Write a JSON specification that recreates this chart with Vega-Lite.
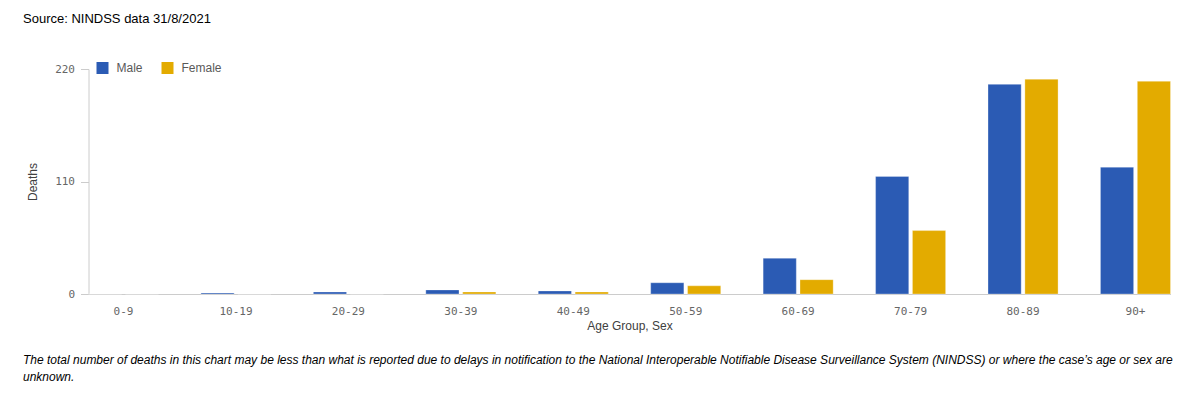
{
  "$schema": "https://vega.github.io/schema/vega-lite/v6.json",
  "autosize": {"type": "pad"},
  "padding": {"left": 22.5, "top": 13, "right": 0, "bottom": 0},
  "background": "white",
  "title": {
    "text": "Source: NINDSS data 31/8/2021",
    "anchor": "start",
    "frame": "group",
    "font": "Liberation Sans",
    "fontSize": 13,
    "fontWeight": "normal",
    "color": "#000000",
    "offset": 36,
    "dx": -65.5
  },
  "config": {
    "view": {"stroke": null},
    "font": "Liberation Sans"
  },
  "vconcat": [
    {
      "width": 1082,
      "height": 225,
      "title": {
        "text": ["The total number of deaths in this chart may be less than what is reported due to delays in notification to the National Interoperable Notifiable Disease Surveillance System (NINDSS) or where the case’s age or sex are", "unknown."],
        "orient": "bottom",
        "anchor": "start",
        "frame": "group",
        "font": "Liberation Sans",
        "fontSize": 12,
        "fontStyle": "italic",
        "fontWeight": "normal",
        "color": "#000000",
        "lineHeight": 17,
        "limit": 2000,
        "offset": 24,
        "dx": -65.5
      },
      "data": {
        "values": [
          {"age": "0-9", "sex": "Male", "deaths": 0},
          {"age": "0-9", "sex": "Female", "deaths": 0},
          {"age": "10-19", "sex": "Male", "deaths": 1},
          {"age": "10-19", "sex": "Female", "deaths": 0},
          {"age": "20-29", "sex": "Male", "deaths": 2},
          {"age": "20-29", "sex": "Female", "deaths": 0},
          {"age": "30-39", "sex": "Male", "deaths": 4},
          {"age": "30-39", "sex": "Female", "deaths": 2},
          {"age": "40-49", "sex": "Male", "deaths": 3},
          {"age": "40-49", "sex": "Female", "deaths": 2},
          {"age": "50-59", "sex": "Male", "deaths": 11},
          {"age": "50-59", "sex": "Female", "deaths": 8},
          {"age": "60-69", "sex": "Male", "deaths": 35},
          {"age": "60-69", "sex": "Female", "deaths": 14},
          {"age": "70-79", "sex": "Male", "deaths": 115},
          {"age": "70-79", "sex": "Female", "deaths": 62},
          {"age": "80-89", "sex": "Male", "deaths": 205},
          {"age": "80-89", "sex": "Female", "deaths": 210},
          {"age": "90+", "sex": "Male", "deaths": 124},
          {"age": "90+", "sex": "Female", "deaths": 208}
        ]
      },
      "mark": {"type": "bar", "stroke": "#ffffff", "strokeWidth": 0.6, "strokeOpacity": 0.5},
      "encoding": {
        "x": {
          "field": "age",
          "type": "nominal",
          "sort": null,
          "scale": {"paddingInner": 0.377, "paddingOuter": 0},
          "axis": {
            "title": "Age Group, Sex",
            "labelAngle": 0,
            "ticks": false,
            "labelPadding": 11,
            "labelFont": "DejaVu Sans Mono",
            "labelFontSize": 11,
            "labelColor": "#666666",
            "titleFont": "Liberation Sans",
            "titleFontSize": 12,
            "titleFontWeight": "normal",
            "titleColor": "#404040",
            "titlePadding": 4,
            "domainColor": "#cccccc",
            "grid": false
          }
        },
        "xOffset": {
          "field": "sex",
          "type": "nominal",
          "sort": ["Male", "Female"],
          "scale": {"paddingInner": 0.1}
        },
        "y": {
          "field": "deaths",
          "type": "quantitative",
          "scale": {"domain": [0, 220], "nice": false},
          "axis": {
            "title": "Deaths",
            "values": [0, 110, 220],
            "tickSize": 8,
            "tickColor": "#cccccc",
            "labelPadding": 6,
            "labelFont": "DejaVu Sans Mono",
            "labelFontSize": 11,
            "labelColor": "#666666",
            "titleFont": "Liberation Sans",
            "titleFontSize": 12,
            "titleFontWeight": "normal",
            "titleColor": "#404040",
            "titlePadding": 15,
            "domainColor": "#cccccc",
            "grid": false
          }
        },
        "color": {
          "field": "sex",
          "type": "nominal",
          "sort": ["Male", "Female"],
          "scale": {"domain": ["Male", "Female"], "range": ["#2b5bb4", "#e3ab00"]},
          "legend": {
            "title": null,
            "orient": "none",
            "legendX": 8,
            "legendY": -7,
            "direction": "horizontal",
            "symbolType": "square",
            "symbolSize": 144,
            "symbolStrokeWidth": 0,
            "labelFont": "Liberation Sans",
            "labelFontSize": 12,
            "labelColor": "#595959",
            "labelOffset": 8,
            "columnPadding": 18
          }
        }
      }
    }
  ]
}
